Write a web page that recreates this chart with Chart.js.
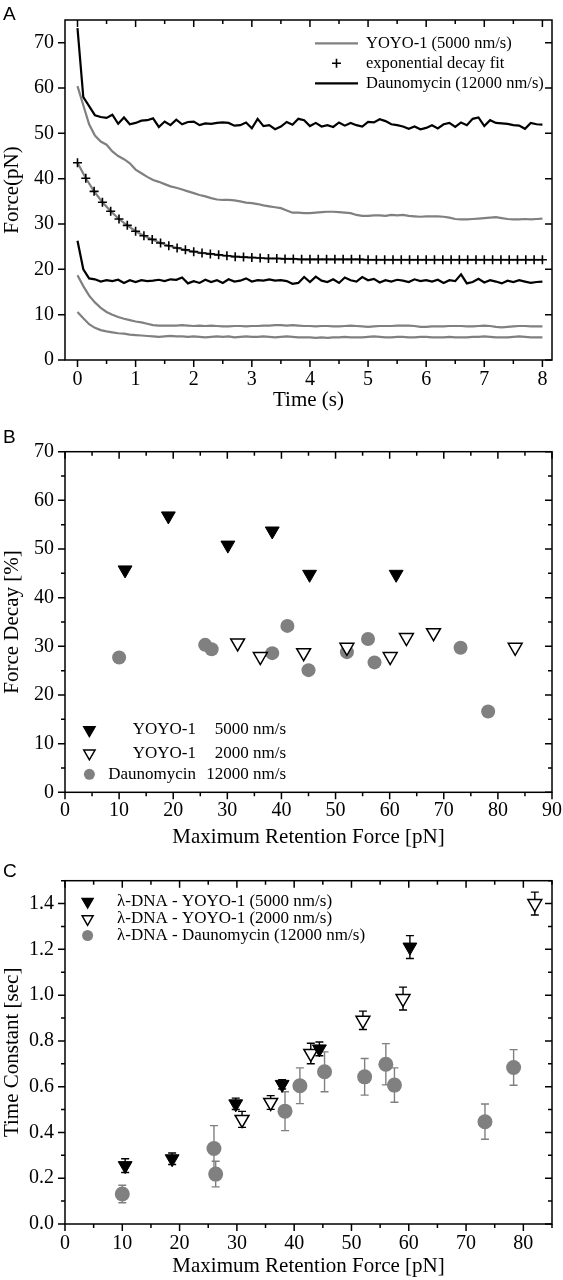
<!DOCTYPE html>
<html><head><meta charset="utf-8">
<script src="https://cdn.jsdelivr.net/npm/chart.js@4.4.0/dist/chart.umd.min.js"></script>
<style>
html,body{margin:0;padding:0;background:#fff;}
body{width:563px;height:1280px;position:relative;overflow:hidden;}
canvas{position:absolute;left:0;}
</style></head><body>
<canvas id="ca" width="563" height="425" style="top:0px"></canvas>
<canvas id="cb" width="563" height="430" style="top:425px"></canvas>
<canvas id="cc" width="563" height="425" style="top:855px"></canvas>
<script>
// ---------------- Panel A data ----------------
const timeA = [0,0.1,0.2,0.3,0.4,0.5,0.6,0.7,0.8,0.9,1,1.1,1.2,1.3,1.4,1.5,1.6,1.7,1.8,1.9,2,2.1,2.2,2.3,2.4,2.5,2.6,2.7,2.8,2.9,3,3.1,3.2,3.3,3.4,3.5,3.6,3.7,3.8,3.9,4,4.1,4.2,4.3,4.4,4.5,4.6,4.7,4.8,4.9,5,5.1,5.2,5.3,5.4,5.5,5.6,5.7,5.8,5.9,6,6.1,6.2,6.3,6.4,6.5,6.6,6.7,6.8,6.9,7,7.1,7.2,7.3,7.4,7.5,7.6,7.7,7.8,7.9,8];
const dauHigh = [73.2,58.0,56.0,54.0,53.6,53.4,54.1,52.1,53.5,52.0,
  52.3,52.8,52.9,53.3,51.4,52.6,51.8,53.0,52.0,52.5,
  52.6,51.8,52.2,52.1,52.3,52.4,52.3,51.7,51.8,52.4,
  51.1,53.2,51.6,51.8,50.9,51.5,52.5,51.9,53.2,52.9,
  51.6,52.3,51.5,51.8,51.4,52.4,51.7,52.3,51.8,51.5,
  52.5,52.4,53.1,52.7,52.0,51.8,51.5,51.0,51.5,50.9,
  51.2,51.8,51.1,52.0,52.3,51.4,52.4,51.8,53.2,53.5,
  51.6,52.9,52.3,52.2,52.1,51.8,51.7,51.0,52.3,52.0,51.9];
const yoyoHigh = [60.4,56.2,52.0,49.5,48.2,47.5,46.0,45.0,44.3,43.4,
  42.0,41.2,40.4,39.7,39.3,38.8,38.3,38.0,37.6,37.2,
  36.8,36.4,36.1,35.7,35.4,35.3,35.3,35.2,35.0,34.7,
  34.6,34.4,34.1,33.9,33.7,33.5,33.0,32.5,32.5,32.4,
  32.4,32.5,32.6,32.7,32.7,32.6,32.5,32.4,32.0,31.8,
  31.8,31.9,31.9,31.8,32.0,31.9,32.0,31.8,31.7,31.6,
  31.7,31.7,31.7,31.6,31.4,31.1,31.0,31.0,31.1,31.2,
  31.3,31.4,31.5,31.3,31.1,31.0,31.0,31.1,31.0,31.1,31.2];
const dauLow = [26.3,20.0,18.0,17.8,17.3,17.6,17.4,17.7,17.0,17.6,
  17.2,17.6,17.4,17.5,17.7,17.4,17.8,17.7,18.2,16.9,
  17.4,17.0,17.7,17.2,17.6,17.0,17.8,17.3,17.5,18.0,
  17.3,17.6,17.5,17.8,17.5,17.6,17.4,16.8,17.0,18.3,
  17.2,18.4,17.5,17.2,17.8,17.0,18.2,17.6,17.3,18.3,
  17.6,17.9,17.1,17.6,17.3,17.7,17.5,17.2,17.8,17.4,
  17.6,17.3,17.7,17.0,17.6,17.4,18.9,16.9,17.2,17.9,
  17.1,17.6,17.3,16.9,17.5,17.2,17.6,17.3,17.0,17.2,17.3];
const yoyoLow1 = [18.7,16.3,14.2,12.7,11.5,10.6,10.0,9.5,9.1,8.8,
  8.5,8.3,8.0,7.7,7.6,7.6,7.6,7.6,7.7,7.6,
  7.5,7.6,7.5,7.6,7.5,7.4,7.4,7.5,7.5,7.4,
  7.5,7.5,7.6,7.6,7.7,7.7,7.6,7.7,7.6,7.5,
  7.5,7.4,7.5,7.5,7.4,7.4,7.5,7.6,7.5,7.4,
  7.3,7.4,7.5,7.5,7.5,7.6,7.6,7.6,7.5,7.3,
  7.3,7.4,7.4,7.4,7.5,7.5,7.5,7.4,7.4,7.5,
  7.6,7.5,7.3,7.2,7.3,7.4,7.5,7.5,7.4,7.4,7.4];
const yoyoLow2 = [10.6,9.2,7.9,7.1,6.6,6.3,6.1,5.9,5.8,5.6,
  5.5,5.4,5.3,5.2,5.1,5.2,5.3,5.2,5.2,5.1,
  5.2,5.1,5.0,5.1,5.2,5.1,5.2,5.0,5.1,5.2,
  5.1,5.1,5.2,5.1,5.0,5.1,5.2,5.1,5.0,5.0,
  5.0,4.9,5.0,4.9,5.0,5.0,5.1,5.0,5.0,5.0,
  5.1,5.2,5.1,5.0,5.0,5.1,5.1,5.0,5.0,5.1,
  5.1,5.0,5.0,5.0,5.1,5.0,5.0,5.0,5.1,5.1,
  5.2,5.1,5.0,5.0,5.0,5.1,5.2,5.1,5.0,5.0,5.0];
const fitTime = [0,0.143,0.286,0.429,0.571,0.714,0.857,1,1.143,1.286,1.429,1.571,1.714,1.857,2,2.143,2.286,2.429,2.571,2.714,2.857,3,3.143,3.286,3.429,3.571,3.714,3.857,4,4.143,4.286,4.429,4.571,4.714,4.857,5,5.143,5.286,5.429,5.571,5.714,5.857,6,6.143,6.286,6.429,6.571,6.714,6.857,7,7.143,7.286,7.429,7.571,7.714,7.857,8];
const fitForce = [43.5,40.1,37.2,34.8,32.8,31.1,29.7,28.4,27.4,26.6,
  25.8,25.2,24.7,24.3,23.9,23.6,23.4,23.2,23.0,22.8,
  22.7,22.6,22.5,22.4,22.4,22.3,22.3,22.2,22.2,22.2,
  22.2,22.2,22.2,22.2,22.2,22.1,22.1,22.1,22.1,22.1,
  22.1,22.1,22.1,22.1,22.1,22.1,22.1,22.1,22.1,22.1,22.1,22.1,22.1,22.1,22.1,22.1,22.1];
const legendA = ['YOYO-1 (5000 nm/s)', 'exponential decay fit', 'Daunomycin (12000 nm/s)'];

// ---------------- Panel B data ----------------
const bYoyo5000X = [11.1,19.1,30.1,38.3,45.2,61.2];
const bYoyo5000Y = [45.7,56.8,50.8,53.7,44.8,44.8];
const bYoyo2000X = [31.9,36.1,44.1,52.1,60.1,63.1,68.1,83.2];
const bYoyo2000Y = [30.7,27.9,28.7,29.8,27.9,31.8,32.8,29.8];
const bDauX = [10.0,25.9,27.1,38.3,41.1,45.0,52.1,56.0,57.2,73.1,78.2];
const bDauY = [27.7,30.3,29.4,28.6,34.2,25.1,28.8,31.5,26.7,29.7,16.6];
const legendB = [['YOYO-1','5000 nm/s'],['YOYO-1','2000 nm/s'],['Daunomycin','12000 nm/s']];

// ---------------- Panel C data ----------------
const cYoyo5000X = [10.5,18.7,29.8,37.9,44.4,60.2];
const cYoyo5000Y = [0.255,0.285,0.525,0.61,0.765,1.21];
const cYoyo5000E = [0.03,0.025,0.025,0.02,0.03,0.05];
const cYoyo2000X = [30.9,35.9,42.9,52.0,59.0,82.0];
const cYoyo2000Y = [0.457,0.531,0.745,0.89,0.985,1.40];
const cYoyo2000E = [0.035,0.03,0.045,0.04,0.05,0.05];
const cDauX = [10.0,26.0,26.3,38.4,41.0,45.3,52.3,56.0,57.5,73.3,78.3];
const cDauY = [0.131,0.33,0.218,0.493,0.604,0.665,0.643,0.698,0.607,0.447,0.684];
const cDauE = [0.038,0.10,0.056,0.085,0.078,0.087,0.08,0.09,0.075,0.077,0.078];
const legendC = ['\u03bb-DNA - YOYO-1 (5000 nm/s)','\u03bb-DNA - YOYO-1 (2000 nm/s)','\u03bb-DNA - Daunomycin (12000 nm/s)'];

// ---------------- helpers ----------------
const GRAY = '#808080';
const SERIF = "'Liberation Serif','Times New Roman',serif";
const SANS = "'Liberation Sans',Arial,sans-serif";
const pts = (xs, ys) => xs.map((x, i) => ({x: x, y: ys[i]}));

function axes(o) {
  return {
    x: {
      type: 'linear', min: o.xmin, max: o.xmax,
      grid: {display: false, drawTicks: false}, border: {display: false},
      ticks: {stepSize: o.xstep, includeBounds: false, padding: o.xpad, color: '#000',
        autoSkip: false, maxRotation: 0, font: {family: SERIF, size: 20},
        callback: v => String(Math.round(v * 100) / 100)},
      title: {display: true, text: o.xtitle, color: '#000', font: {family: SERIF, size: 21},
        padding: {top: 0, bottom: o.xtpad}},
      afterFit(s) { s.height = o.xh; s.paddingLeft = 0; s.paddingRight = 0; }
    },
    y: {
      type: 'linear', min: o.ymin, max: o.ymax,
      grid: {display: false, drawTicks: false}, border: {display: false},
      ticks: {stepSize: o.ystep, includeBounds: false, padding: 11, color: '#000',
        autoSkip: false, font: {family: SERIF, size: 20},
        callback: o.yfmt || (v => String(Math.round(v * 100) / 100))},
      title: {display: true, text: o.ytitle, color: '#000', font: {family: SERIF, size: 21},
        padding: {top: 0, bottom: 0}},
      afterFit(s) { s.width = 65; s.paddingTop = 0; s.paddingBottom = 0; }
    }
  };
}

const framePlugin = {
  id: 'frame',
  afterDatasetsDraw(chart, args, opts) {
    const {ctx, chartArea: a, scales: {x, y}} = chart;
    ctx.save();
    ctx.strokeStyle = '#000';
    ctx.lineWidth = 1.5;
    ctx.strokeRect(a.left, a.top, a.right - a.left, a.bottom - a.top);
    ctx.beginPath();
    const xt = (step, len) => {
      if (!step) return;
      const k0 = Math.ceil(x.min / step - 1e-9), k1 = Math.floor(x.max / step + 1e-9);
      for (let k = k0; k <= k1; k++) {
        const px = x.getPixelForValue(k * step);
        ctx.moveTo(px, a.bottom); ctx.lineTo(px, a.bottom + len);
        ctx.moveTo(px, a.top); ctx.lineTo(px, a.top + len);
      }
    };
    const yt = (step, len) => {
      if (!step) return;
      const k0 = Math.ceil(y.min / step - 1e-9), k1 = Math.floor(y.max / step + 1e-9);
      for (let k = k0; k <= k1; k++) {
        const py = y.getPixelForValue(k * step);
        ctx.moveTo(a.left, py); ctx.lineTo(a.left - len, py);
        ctx.moveTo(a.right, py); ctx.lineTo(a.right - len, py);
      }
    };
    xt(opts.xMajor, 7); xt(opts.xMinor, 4);
    yt(opts.yMajor, 7); yt(opts.yMinor, 4);
    ctx.stroke();
    ctx.restore();
  }
};

const errorBarPlugin = {
  id: 'errbars',
  beforeDatasetsDraw(chart) {
    const {ctx, scales: {y}} = chart;
    chart.data.datasets.forEach((ds, i) => {
      if (!ds.errs) return;
      const meta = chart.getDatasetMeta(i);
      ctx.save();
      ctx.strokeStyle = ds.errColor;
      ctx.lineWidth = 1.4;
      meta.data.forEach((pt, j) => {
        const e = ds.errs[j], v = ds.data[j].y;
        const ytop = y.getPixelForValue(v + e), ybot = y.getPixelForValue(v - e);
        ctx.beginPath();
        ctx.moveTo(pt.x, ytop); ctx.lineTo(pt.x, ybot);
        ctx.moveTo(pt.x - 4, ytop); ctx.lineTo(pt.x + 4, ytop);
        ctx.moveTo(pt.x - 4, ybot); ctx.lineTo(pt.x + 4, ybot);
        ctx.stroke();
      });
      ctx.restore();
    });
  }
};

function symTri(ctx, x, y, r, filled) {
  ctx.beginPath();
  ctx.moveTo(x, y + r);
  ctx.lineTo(x - r * 0.866, y - r * 0.5);
  ctx.lineTo(x + r * 0.866, y - r * 0.5);
  ctx.closePath();
  ctx.lineWidth = 1.5;
  ctx.fillStyle = filled ? '#000' : '#fff';
  ctx.strokeStyle = '#000';
  ctx.fill(); ctx.stroke();
}
function symCircle(ctx, x, y, r) {
  ctx.beginPath(); ctx.arc(x, y, r, 0, Math.PI * 2);
  ctx.fillStyle = GRAY; ctx.fill();
}
function panelLetter(ctx, t, x, y) {
  ctx.save();
  ctx.font = '19px ' + SANS; ctx.fillStyle = '#000';
  ctx.textBaseline = 'alphabetic'; ctx.textAlign = 'left';
  ctx.fillText(t, x, y);
  ctx.restore();
}

const common = {
  responsive: false, animation: false, devicePixelRatio: 1,
  events: []
};

// ---------------- Chart A ----------------
new Chart(document.getElementById('ca'), {
  type: 'scatter',
  data: {datasets: [
    {label: legendA[1], data: pts(fitTime, fitForce), showLine: false, pointStyle: 'cross',
      pointRadius: 4.5, borderColor: '#000', borderWidth: 1.6, backgroundColor: '#000'},
    {label: legendA[2], data: pts(timeA, dauHigh), showLine: true, pointRadius: 0, borderColor: '#000', borderWidth: 2.2},
    {label: legendA[2], data: pts(timeA, dauLow), showLine: true, pointRadius: 0, borderColor: '#000', borderWidth: 2.2},
    {label: legendA[0], data: pts(timeA, yoyoHigh), showLine: true, pointRadius: 0, borderColor: GRAY, borderWidth: 2.2},
    {label: legendA[0], data: pts(fitTime, fitForce), showLine: true, pointRadius: 0, borderColor: GRAY, borderWidth: 2.2},
    {label: legendA[0], data: pts(timeA, yoyoLow1), showLine: true, pointRadius: 0, borderColor: GRAY, borderWidth: 2.2},
    {label: legendA[0], data: pts(timeA, yoyoLow2), showLine: true, pointRadius: 0, borderColor: GRAY, borderWidth: 2.2}
  ]},
  options: Object.assign({}, common, {
    layout: {padding: {top: 20, right: 11, left: 0, bottom: 0}},
    scales: axes({xmin: -0.215, xmax: 8.165, xstep: 1, xpad: 8, xtitle: 'Time (s)', xtpad: 12.4, xh: 65,
      ymin: 0, ymax: 75, ystep: 10, ytitle: 'Force(pN)'}),
    plugins: {legend: {display: false}, tooltip: {enabled: false},
      frame: {xMajor: 1, xMinor: 0.5, yMajor: 10, yMinor: 0}}
  }),
  plugins: [framePlugin, {
    id: 'legA',
    afterDraw(chart) {
      const ctx = chart.ctx;
      ctx.save();
      panelLetter(ctx, 'A', 3, 20);
      ctx.lineWidth = 2.2;
      ctx.strokeStyle = GRAY;
      ctx.beginPath(); ctx.moveTo(315, 43.3); ctx.lineTo(358, 43.3); ctx.stroke();
      ctx.strokeStyle = '#000';
      ctx.beginPath(); ctx.moveTo(315, 83.3); ctx.lineTo(358, 83.3); ctx.stroke();
      ctx.lineWidth = 1.6;
      ctx.beginPath(); ctx.moveTo(336.5, 58.8); ctx.lineTo(336.5, 67.8);
      ctx.moveTo(332, 63.3); ctx.lineTo(341, 63.3); ctx.stroke();
      ctx.font = '16.5px ' + SERIF; ctx.fillStyle = '#000';
      ctx.textBaseline = 'middle'; ctx.textAlign = 'left';
      ctx.fillText(legendA[0], 366, 43.3);
      ctx.fillText(legendA[1], 366, 63.3);
      ctx.fillText(legendA[2], 366, 83.3);
      ctx.restore();
    }
  }]
});

// ---------------- Chart B ----------------
new Chart(document.getElementById('cb'), {
  type: 'scatter',
  data: {datasets: [
    {label: legendB[0].join(' '), data: pts(bYoyo5000X, bYoyo5000Y), pointStyle: 'triangle', pointRotation: 180,
      pointRadius: 8, backgroundColor: '#000', borderColor: '#000', borderWidth: 1},
    {label: legendB[1].join(' '), data: pts(bYoyo2000X, bYoyo2000Y), pointStyle: 'triangle', pointRotation: 180,
      pointRadius: 8, backgroundColor: '#fff', borderColor: '#000', borderWidth: 1.5},
    {label: legendB[2].join(' '), data: pts(bDauX, bDauY), pointStyle: 'circle',
      pointRadius: 7, backgroundColor: GRAY, borderColor: GRAY, borderWidth: 0}
  ]},
  options: Object.assign({}, common, {
    layout: {padding: {top: 26.7, right: 11, left: 0, bottom: 0}},
    scales: axes({xmin: 0, xmax: 90, xstep: 10, xpad: 6.5, xtitle: 'Maximum Retention Force [pN]', xtpad: 5.4, xh: 62.7,
      ymin: 0, ymax: 70, ystep: 10, ytitle: 'Force Decay [%]'}),
    plugins: {legend: {display: false}, tooltip: {enabled: false},
      frame: {xMajor: 10, xMinor: 5, yMajor: 10, yMinor: 5}}
  }),
  plugins: [framePlugin, {
    id: 'legB',
    afterDraw(chart) {
      const ctx = chart.ctx;
      ctx.save();
      panelLetter(ctx, 'B', 3, 18);
      const rows = [305, 328.3, 349.3];
      symTri(ctx, 89.4, rows[0], 6.5, true);
      symTri(ctx, 89.4, rows[1], 6.5, false);
      symCircle(ctx, 89.4, rows[2], 5.5);
      ctx.font = '17px ' + SERIF; ctx.fillStyle = '#000';
      ctx.textBaseline = 'middle'; ctx.textAlign = 'right';
      legendB.forEach((l, i) => {
        ctx.fillText(l[0], 196, rows[i]);
        ctx.fillText(l[1], 286, rows[i]);
      });
      ctx.restore();
    }
  }]
});

// ---------------- Chart C ----------------
new Chart(document.getElementById('cc'), {
  type: 'scatter',
  data: {datasets: [
    {label: legendC[0], data: pts(cYoyo5000X, cYoyo5000Y), errs: cYoyo5000E, errColor: '#000',
      pointStyle: 'triangle', pointRotation: 180, pointRadius: 8, backgroundColor: '#000', borderColor: '#000', borderWidth: 1},
    {label: legendC[1], data: pts(cYoyo2000X, cYoyo2000Y), errs: cYoyo2000E, errColor: '#000',
      pointStyle: 'triangle', pointRotation: 180, pointRadius: 8, backgroundColor: '#fff', borderColor: '#000', borderWidth: 1.5},
    {label: legendC[2], data: pts(cDauX, cDauY), errs: cDauE, errColor: GRAY,
      pointStyle: 'circle', pointRadius: 7.5, backgroundColor: GRAY, borderColor: GRAY, borderWidth: 0}
  ]},
  options: Object.assign({}, common, {
    layout: {padding: {top: 25.7, right: 11, left: 0, bottom: 0}},
    scales: axes({xmin: 0, xmax: 85, xstep: 10, xpad: 8, xtitle: 'Maximum Retention Force [pN]', xtpad: 0.7, xh: 56,
      ymin: 0, ymax: 1.5, ystep: 0.2, ytitle: 'Time Constant [sec]', yfmt: v => v.toFixed(1)}),
    plugins: {legend: {display: false}, tooltip: {enabled: false},
      frame: {xMajor: 10, xMinor: 5, yMajor: 0.2, yMinor: 0.1}}
  }),
  plugins: [framePlugin, errorBarPlugin, {
    id: 'legC',
    afterDraw(chart) {
      const ctx = chart.ctx;
      ctx.save();
      panelLetter(ctx, 'C', 3, 21.7);
      const rows = [46.7, 64, 80.5];
      symTri(ctx, 87.6, rows[0], 6.3, true);
      symTri(ctx, 87.6, rows[1], 6.3, false);
      symCircle(ctx, 87.6, rows[2], 5.5);
      ctx.font = '17px ' + SERIF; ctx.fillStyle = '#000';
      ctx.textBaseline = 'middle'; ctx.textAlign = 'left';
      legendC.forEach((l, i) => ctx.fillText(l, 117, rows[i]));
      ctx.restore();
    }
  }]
});
</script>
</body></html>
